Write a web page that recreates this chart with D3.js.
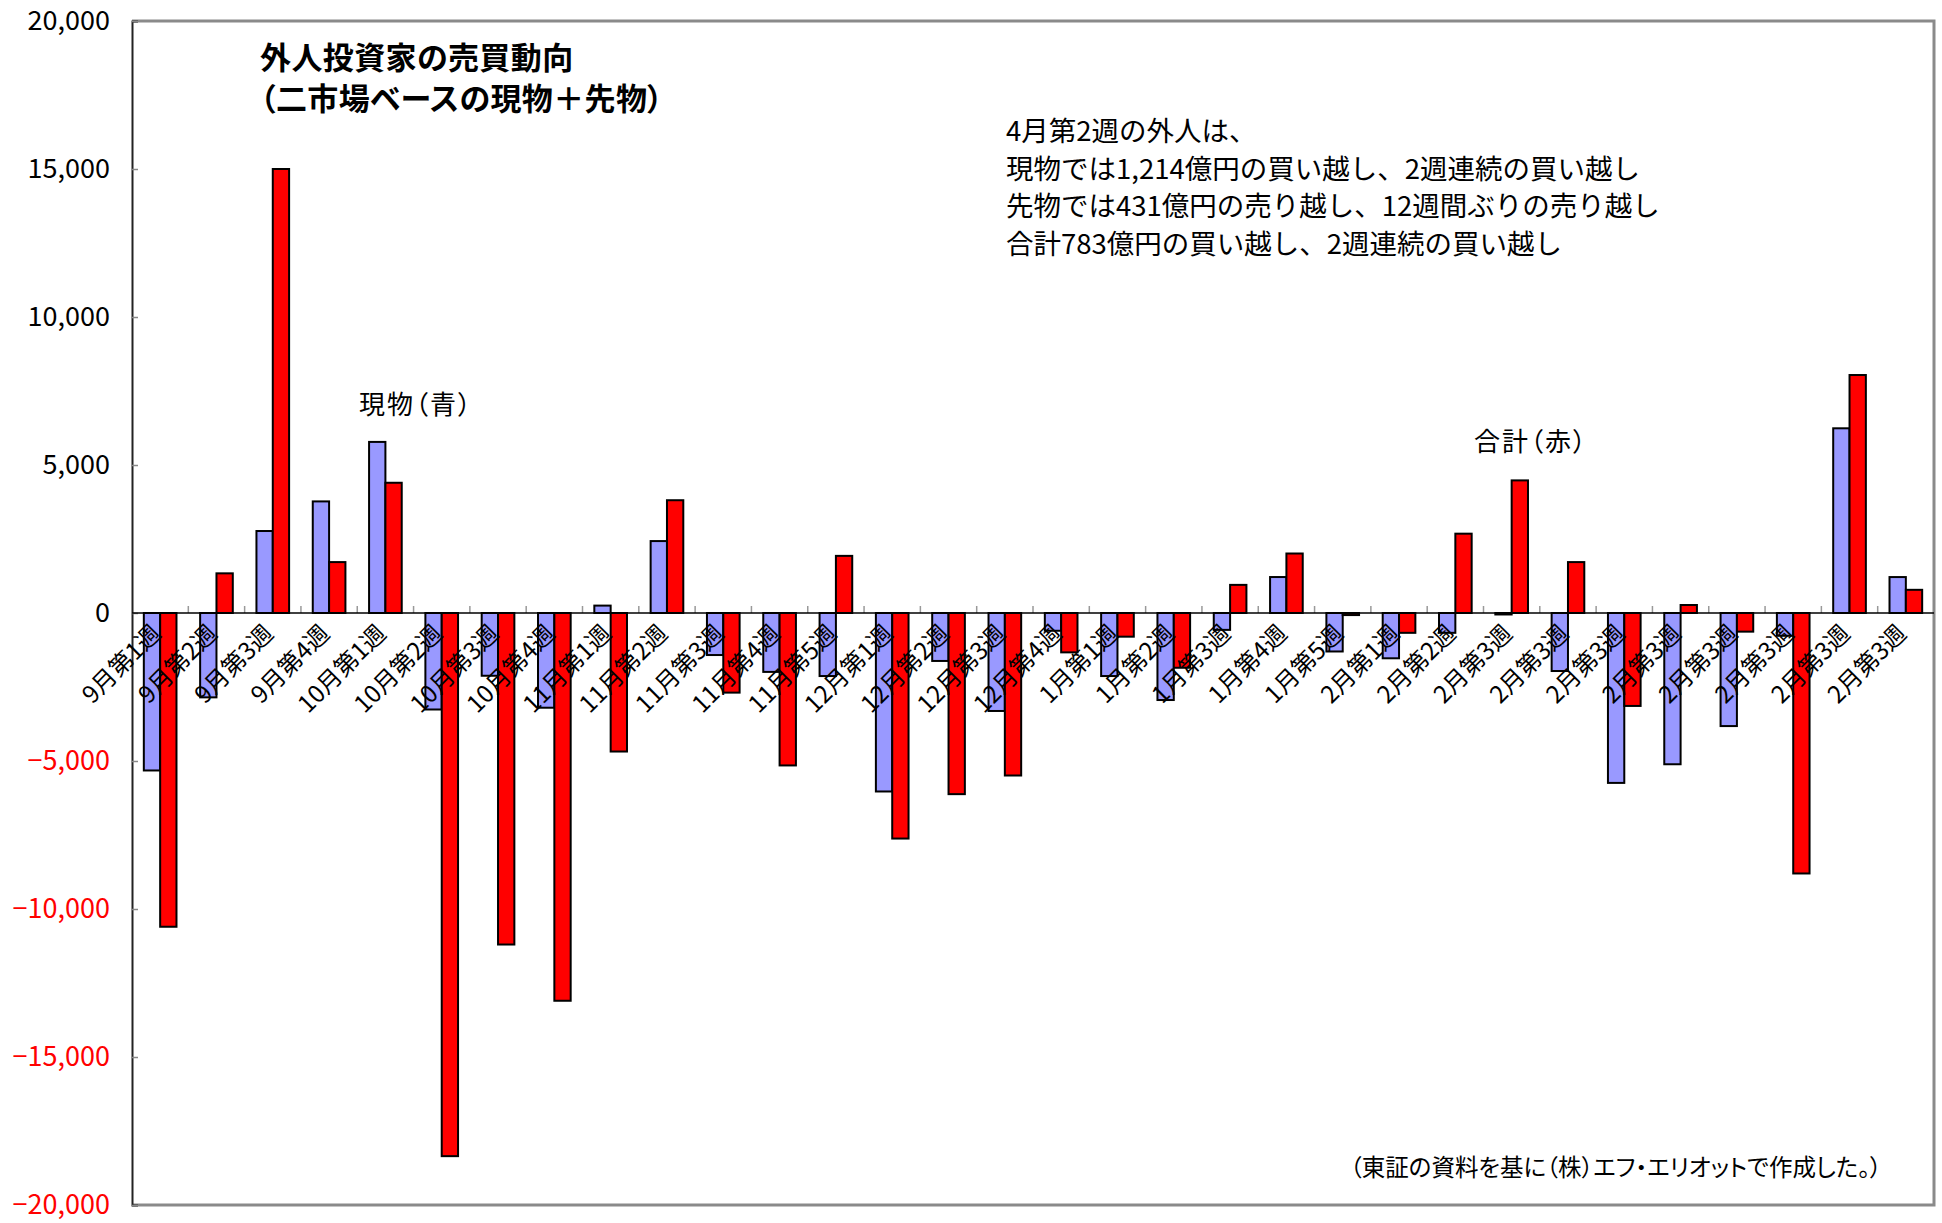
<!DOCTYPE html>
<html><head><meta charset="utf-8">
<script src="https://cdn.jsdelivr.net/npm/d3@7"></script>
<style>
html,body{margin:0;padding:0;background:#fff;}
svg text{font-family:"Noto Sans CJK JP","Noto Sans",sans-serif;}
.palt{font-feature-settings:"palt" 1;}
</style></head>
<body>
<svg id="chart" width="1942" height="1223"></svg>
<script>
const categories = ["9月第1週","9月第2週","9月第3週","9月第4週","10月第1週","10月第2週","10月第3週","10月第4週","11月第1週","11月第2週","11月第3週","11月第4週","11月第5週","12月第1週","12月第2週","12月第3週","12月第4週","1月第1週","1月第2週","1月第3週","1月第4週","1月第5週","2月第1週","2月第2週","2月第3週","2月第3週","2月第3週","2月第3週","2月第3週","2月第3週","2月第3週","2月第3週"];
// 現物（青）
const spotValues = [-5320,-2850,2770,3770,5780,-3260,-2120,-3200,250,2430,-1420,-1990,-2130,-6030,-1620,-3310,-600,-2130,-2940,-570,1215,-1300,-1530,-670,-50,-1960,-5740,-5110,-3820,-770,6240,1214];
// 合計（赤）
const totalValues = [-10600,1340,15000,1720,4400,-18350,-11200,-13100,-4680,3810,-2690,-5150,1930,-7620,-6120,-5490,-1330,-800,-1850,950,2010,-70,-670,2680,4480,1720,-3140,270,-630,-8800,8040,783];
const yTicks = [-20000,-15000,-10000,-5000,0,5000,10000,15000,20000];
const titleLines = ["外人投資家の売買動向","（二市場ベースの現物＋先物）"];
const noteLines = ["4月第2週の外人は、","現物では1,214億円の買い越し、2週連続の買い越し","先物では431億円の売り越し、12週間ぶりの売り越し","合計783億円の買い越し、2週連続の買い越し"];
const seriesLabels = ["現物（青）","合計（赤）"];
const sourceText = "（東証の資料を基に（株）エフ・エリオットで作成した。）";

const svg = d3.select("#chart");
const L = 132, R = 1934, T = 21, B = 1205;

const x0 = d3.scaleBand().domain(d3.range(categories.length)).range([L, R]).paddingInner(0.42).paddingOuter(0.21);
const x1 = d3.scaleBand().domain([0,1]).range([0, x0.bandwidth()]);
const y = d3.scaleLinear().domain([-20000, 20000]).range([B, T]);

// frame (top/right/bottom gray)
svg.append("path")
  .attr("d", `M${L},${T}H${R}V${B}H${L}`)
  .attr("fill","none").attr("stroke","#8a8a8a").attr("stroke-width",3);

// y axis
const yAxis = svg.append("g").attr("transform",`translate(${L},0)`)
  .call(d3.axisLeft(y).tickValues(yTicks).tickSize(-6).tickPadding(22).tickFormat(d3.format(",")));
yAxis.select(".domain").attr("stroke","#222").attr("stroke-width",2);
yAxis.selectAll(".tick line").attr("stroke","#888").attr("stroke-width",1.5);
yAxis.selectAll(".tick text")
  .attr("font-size",27)
  .attr("fill", d => d < 0 ? "#ff0000" : "#000")
  .text(d => d < 0 ? "−" + d3.format(",")(-d) : d3.format(",")(d));

// bars
const groups = svg.append("g").selectAll("g").data(categories.map((c,i)=>i)).join("g")
  .attr("transform", i => `translate(${x0(i)},0)`);
groups.append("rect")
  .attr("x", x1(0)).attr("width", x1.bandwidth())
  .attr("y", i => y(Math.max(0, spotValues[i])))
  .attr("height", i => Math.abs(y(spotValues[i]) - y(0)))
  .attr("fill","#9999ff").attr("stroke","#000").attr("stroke-width",2);
groups.append("rect")
  .attr("x", x1(1)).attr("width", x1.bandwidth())
  .attr("y", i => y(Math.max(0, totalValues[i])))
  .attr("height", i => Math.abs(y(totalValues[i]) - y(0)))
  .attr("fill","#ff0000").attr("stroke","#000").attr("stroke-width",2);

// zero line with category-boundary ticks
const step = x0.step();
const bounds = d3.range(1, categories.length).map(i => x0(i) - step*x0.paddingInner()/2);
svg.append("g").selectAll("line").data(bounds).join("line")
  .attr("x1", d=>d).attr("x2", d=>d).attr("y1", y(0)-7).attr("y2", y(0))
  .attr("stroke","#999").attr("stroke-width",1.5);
svg.append("line").attr("x1",L).attr("x2",R).attr("y1",y(0)).attr("y2",y(0))
  .attr("stroke","#000").attr("stroke-width",1.5);

// x labels
svg.append("g").selectAll("text").data(categories.map((c,i)=>i)).join("text")
  .attr("transform", i => `translate(${x0(i)+x0.bandwidth()/2+2},${y(0)+22}) rotate(-45)`)
  .attr("text-anchor","end")
  .attr("font-size",24)
  .attr("fill","#000")
  .text(i => categories[i]);

// title
svg.append("g").selectAll("text").data(titleLines).join("text")
  .attr("class","palt")
  .attr("x",260).attr("y",(d,i)=>69+i*41)
  .attr("font-size",31).attr("letter-spacing",0.4).attr("font-weight","bold").text(d=>d);

// note
svg.append("g").selectAll("text").data(noteLines).join("text")
  .attr("x",1006).attr("y",(d,i)=>141+i*37.5)
  .attr("font-size",27.5).text(d=>d);

// series labels
svg.append("text").attr("class","palt").attr("x",359).attr("y",414).attr("font-size",26).attr("letter-spacing",2).text(seriesLabels[0]);
svg.append("text").attr("class","palt").attr("x",1474).attr("y",451).attr("font-size",26).attr("letter-spacing",2).text(seriesLabels[1]);

// source
svg.append("text").attr("class","palt").attr("x",1350).attr("y",1176).attr("font-size",23.5).text(sourceText);
</script>
</body></html>
